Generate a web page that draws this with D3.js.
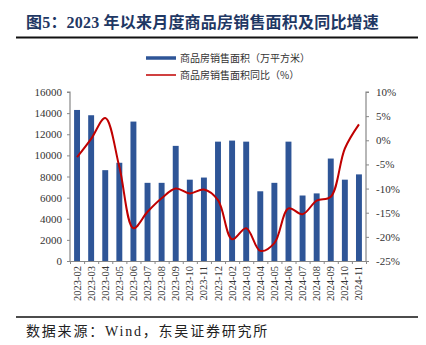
<!DOCTYPE html>
<html><head><meta charset="utf-8">
<script src="https://cdn.jsdelivr.net/npm/d3@7/dist/d3.min.js"></script>
<style>body{margin:0;background:#fff}</style>
</head><body>
<svg id="c" width="426" height="345"></svg>
<script>
const categories = ["2023-02","2023-03","2023-04","2023-05","2023-06","2023-07","2023-08","2023-09","2023-10","2023-11","2023-12","2024-02","2024-03","2024-04","2024-05","2024-06","2024-07","2024-08","2024-09","2024-10","2024-11"];
const areaValues = [14300,13800,8600,9300,13200,7400,7400,10900,7700,7900,11300,11400,11300,6600,7400,11300,6200,6400,9700,7700,8200];
const yoyValues = [-3.5,0.3,4.6,-5.5,-18.2,-14.8,-12.0,-10.0,-11.0,-10.2,-12.4,-20.5,-18.2,-22.9,-21.3,-14.1,-15.3,-12.5,-11.7,-1.7,3.3];
const leftTicks = [0,2000,4000,6000,8000,10000,12000,14000,16000];
const rightTicks = [-25,-20,-15,-10,-5,0,5,10];
const seriesNames = ["商品房销售面积（万平方米）","商品房销售面积同比（%）"];
const titleText = "图5：2023 年以来月度商品房销售面积及同比增速";
const sourceText = "数据来源：Wind，东吴证券研究所";

const svg = d3.select("#c");
const L = 70, R = 366, T = 92, B = 261;
const serif = "'Liberation Serif','Times New Roman',serif";
const x = d3.scaleBand().domain(categories).range([L, R]).paddingInner(0.58).paddingOuter(0.29);
const yL = d3.scaleLinear().domain([0,16000]).range([B, T]);
const yR = d3.scaleLinear().domain([-25,10]).range([B, T]);

// title
svg.append("text").attr("x",26).attr("y",28).attr("font-family","'Liberation Serif','Noto Sans CJK SC',serif")
  .attr("font-weight","bold").attr("font-size",16).attr("letter-spacing",0.2).attr("fill","#1F3864").text(titleText);
svg.append("line").attr("x1",16).attr("x2",418).attr("y1",37.5).attr("y2",37.5).attr("stroke","#111").attr("stroke-width",2);
svg.append("line").attr("x1",16).attr("x2",418).attr("y1",317).attr("y2",317).attr("stroke","#111").attr("stroke-width",1.5);
svg.append("text").attr("x",26).attr("y",336).attr("font-family","'Liberation Serif','Noto Sans CJK SC',serif")
  .attr("font-size",14).attr("letter-spacing",1.8).attr("fill","#222").text(sourceText);

// bars
svg.append("g").selectAll("rect").data(areaValues).join("rect")
  .attr("x",(d,i)=>x(categories[i])).attr("width",x.bandwidth())
  .attr("y",d=>yL(d)).attr("height",d=>B-yL(d)).attr("fill","#2E5597");

// line
const line = d3.line().x((d,i)=>x(categories[i])+x.bandwidth()/2).y(d=>yR(d)).curve(d3.curveCatmullRom.alpha(0.5));
svg.append("path").datum(yoyValues).attr("d",line).attr("fill","none").attr("stroke","#C00000").attr("stroke-width",2);

// axes
const axisColor = "#888";
const gl = svg.append("g").attr("transform",`translate(${L},0)`).call(d3.axisLeft(yL).tickValues(leftTicks).tickSize(3).tickPadding(5).tickFormat(d3.format("d")));
const gr = svg.append("g").attr("transform",`translate(${R},0)`).call(d3.axisRight(yR).tickValues(rightTicks).tickSize(3).tickPadding(7).tickFormat(d=>d+"%"));
const xt = d3.scaleLinear().domain([0,categories.length]).range([L,R]);
const gb = svg.append("g").attr("transform",`translate(0,${B})`).call(d3.axisBottom(xt).tickValues(d3.range(0,categories.length+1)).tickSize(3).tickFormat(""));
[gl,gr,gb].forEach(g=>{g.selectAll("path,line").attr("stroke",axisColor);g.select(".domain").attr("stroke-width",1.2);
  g.selectAll("text").attr("font-family",serif).attr("font-size",11).attr("fill","#333");});
gb.select(".domain").attr("d",`M${L},0.5H${R}`);
gl.select(".domain").attr("d",`M-3,${T}H0V${B}`);
gr.select(".domain").attr("d",`M3,${T}H0V${B}`);

// x labels rotated
svg.append("g").selectAll("text").data(categories).join("text")
  .attr("transform",d=>`translate(${x(d)+x.bandwidth()/2+3.5},266) rotate(-90)`)
  .attr("text-anchor","end").attr("font-family",serif).attr("font-size",10.5).attr("fill","#333").text(d=>d);

// legend
const lg = svg.append("g");
lg.append("line").attr("x1",146).attr("x2",176).attr("y1",58).attr("y2",58).attr("stroke","#2E5597").attr("stroke-width",3.5);
lg.append("line").attr("x1",146).attr("x2",176).attr("y1",75).attr("y2",75).attr("stroke","#C00000").attr("stroke-width",1.5);
lg.selectAll("text").data(seriesNames).join("text").attr("x",180).attr("y",(d,i)=>62+i*17)
  .attr("font-family","'Noto Sans CJK SC',sans-serif").attr("font-size",10).attr("fill","#333").text(d=>d);
</script>
</body></html>
